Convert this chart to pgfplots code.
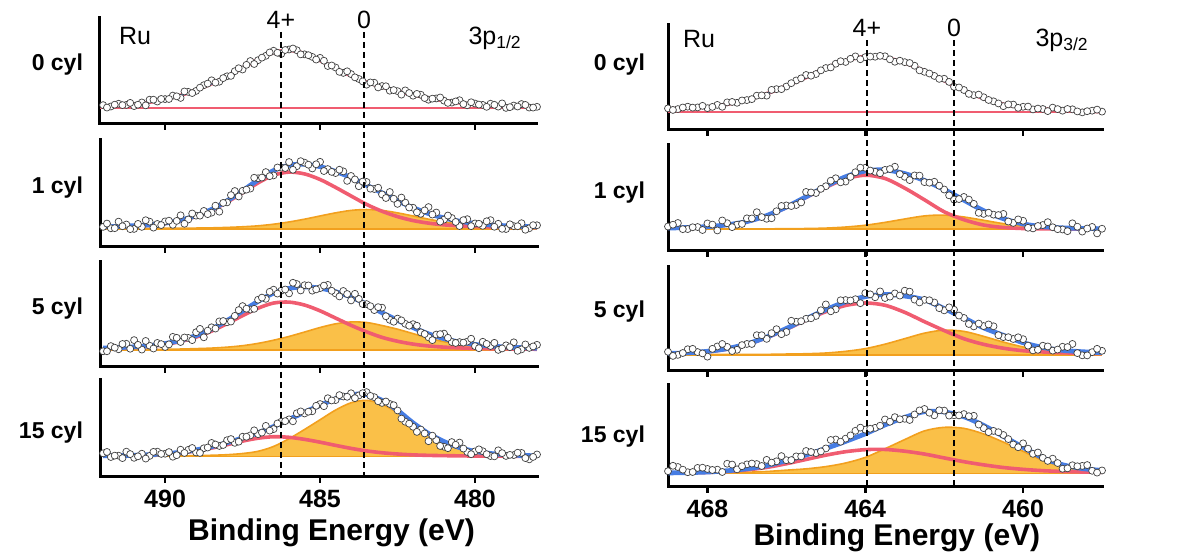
\documentclass[border=0pt]{standalone}
\usepackage{fontspec}
\setmainfont{Liberation Sans}
\usepackage{pgfplots}
\usepackage{pgfplotstable}
\pgfplotsset{compat=1.18}
\usepgfplotslibrary{fillbetween}

\definecolor{bl}{RGB}{70,125,228}
\definecolor{rd}{RGB}{240,92,112}
\definecolor{orf}{RGB}{250,192,72}
\definecolor{orl}{RGB}{242,160,30}

% ---------- left column (Ru 3p1/2): measured points ----------
\pgfplotstableread{
x s1 s2 s3 s4
492.00 0.178 0.188 0.150 0.244
491.75 0.165 0.175 0.199 0.206
491.50 0.191 0.237 0.169 0.220
491.25 0.180 0.210 0.221 0.261
491.00 0.169 0.169 0.256 0.198
490.75 0.203 0.188 0.166 0.240
490.50 0.229 0.237 0.203 0.217
490.25 0.212 0.215 0.229 0.261
490.00 0.235 0.239 0.191 0.240
489.75 0.268 0.207 0.287 0.209
489.50 0.246 0.296 0.238 0.281
489.25 0.303 0.257 0.277 0.280
489.00 0.312 0.293 0.331 0.253
488.75 0.366 0.337 0.283 0.296
488.50 0.412 0.321 0.378 0.351
488.25 0.399 0.330 0.434 0.320
488.00 0.450 0.417 0.426 0.379
487.75 0.498 0.523 0.487 0.352
487.50 0.514 0.525 0.580 0.415
487.25 0.594 0.546 0.547 0.429
487.00 0.602 0.642 0.641 0.442
486.75 0.643 0.700 0.649 0.527
486.50 0.691 0.669 0.736 0.494
486.25 0.661 0.742 0.727 0.570
486.00 0.703 0.794 0.701 0.594
485.75 0.696 0.755 0.790 0.657
485.50 0.657 0.788 0.779 0.655
485.25 0.633 0.734 0.727 0.678
485.00 0.624 0.796 0.751 0.752
484.75 0.547 0.728 0.782 0.812
484.50 0.533 0.691 0.701 0.793
484.25 0.482 0.707 0.724 0.830
484.00 0.471 0.664 0.634 0.863
483.75 0.425 0.568 0.649 0.840
483.50 0.371 0.608 0.599 0.875
483.25 0.389 0.542 0.542 0.823
483.00 0.358 0.491 0.565 0.764
482.75 0.314 0.514 0.449 0.753
482.50 0.310 0.403 0.461 0.686
482.25 0.317 0.415 0.411 0.570
482.00 0.267 0.367 0.408 0.518
481.75 0.276 0.310 0.330 0.489
481.50 0.229 0.373 0.283 0.369
481.25 0.241 0.322 0.309 0.380
481.00 0.220 0.256 0.318 0.312
480.75 0.202 0.271 0.238 0.360
480.50 0.224 0.196 0.237 0.355
480.25 0.177 0.260 0.242 0.258
480.00 0.193 0.220 0.199 0.264
479.75 0.180 0.198 0.240 0.266
479.50 0.191 0.251 0.200 0.216
479.25 0.164 0.217 0.163 0.275
479.00 0.152 0.168 0.206 0.217
478.75 0.174 0.195 0.235 0.226
478.50 0.188 0.222 0.168 0.248
478.25 0.155 0.175 0.182 0.182
478.00 0.162 0.203 0.211 0.232
}\Lsc
\pgfplotstableread{
x s1 s2 s3 s4
491.875 0.155 0.219 0.150 0.258
491.625 0.182 0.176 0.184 0.220
491.375 0.178 0.194 0.219 0.195
491.125 0.199 0.167 0.174 0.236
490.875 0.182 0.216 0.211 0.213
490.625 0.176 0.250 0.248 0.190
490.375 0.229 0.181 0.176 0.259
490.125 0.236 0.205 0.218 0.238
489.875 0.236 0.246 0.215 0.257
489.625 0.261 0.244 0.278 0.225
489.375 0.307 0.217 0.281 0.248
489.125 0.292 0.313 0.256 0.299
488.875 0.343 0.293 0.363 0.248
488.625 0.381 0.307 0.346 0.304
488.375 0.390 0.386 0.366 0.335
488.125 0.433 0.412 0.438 0.330
487.875 0.454 0.485 0.433 0.391
487.625 0.526 0.472 0.542 0.364
487.375 0.558 0.536 0.555 0.415
487.125 0.566 0.647 0.554 0.481
486.875 0.626 0.649 0.661 0.458
486.625 0.675 0.662 0.716 0.478
486.375 0.672 0.743 0.699 0.552
486.125 0.698 0.738 0.738 0.576
485.875 0.712 0.722 0.802 0.574
485.625 0.657 0.802 0.729 0.676
485.375 0.649 0.769 0.777 0.673
485.125 0.608 0.773 0.739 0.734
484.875 0.597 0.710 0.775 0.730
484.625 0.552 0.702 0.726 0.789
484.375 0.492 0.722 0.672 0.844
484.125 0.497 0.618 0.695 0.827
483.875 0.440 0.631 0.697 0.813
483.625 0.402 0.611 0.600 0.864
483.375 0.392 0.545 0.579 0.836
483.125 0.345 0.554 0.570 0.781
482.875 0.356 0.458 0.483 0.778
482.625 0.320 0.451 0.431 0.740
482.375 0.277 0.462 0.444 0.602
482.125 0.292 0.369 0.393 0.550
481.875 0.284 0.324 0.393 0.465
481.625 0.245 0.342 0.314 0.449
481.375 0.239 0.303 0.256 0.426
481.125 0.250 0.237 0.313 0.320
480.875 0.199 0.294 0.278 0.297
480.625 0.213 0.234 0.229 0.332
480.375 0.188 0.251 0.232 0.293
480.125 0.205 0.195 0.269 0.235
479.875 0.183 0.217 0.179 0.285
479.625 0.162 0.240 0.220 0.235
479.375 0.181 0.189 0.230 0.213
479.125 0.194 0.170 0.177 0.246
478.875 0.159 0.212 0.189 0.228
478.625 0.165 0.194 0.154 0.250
478.375 0.180 0.161 0.215 0.195
478.125 0.155 0.204 0.196 0.207
}\Lsb

% ---------- left column: fitted curves ----------
\pgfplotstableread{
x e1 e2 r2 o2 e3 r3 o3 e4 r4 o4
492.0 0.170 0.188 0.185 0.173 0.180 0.175 0.165 0.218 0.216 0.212
491.5 0.175 0.192 0.189 0.173 0.185 0.179 0.166 0.220 0.218 0.212
491.0 0.185 0.199 0.195 0.174 0.192 0.186 0.166 0.224 0.221 0.213
490.5 0.205 0.207 0.203 0.174 0.203 0.196 0.167 0.230 0.226 0.214
490.0 0.235 0.224 0.219 0.175 0.223 0.214 0.169 0.240 0.235 0.215
489.5 0.270 0.251 0.245 0.176 0.254 0.243 0.171 0.255 0.248 0.217
489.0 0.320 0.293 0.286 0.177 0.299 0.284 0.175 0.279 0.269 0.220
488.5 0.380 0.351 0.342 0.179 0.362 0.342 0.180 0.312 0.298 0.224
488.0 0.450 0.432 0.419 0.183 0.442 0.413 0.189 0.353 0.333 0.230
487.5 0.530 0.525 0.506 0.189 0.532 0.489 0.203 0.402 0.370 0.242
487.0 0.610 0.627 0.599 0.198 0.625 0.560 0.225 0.455 0.400 0.265
486.5 0.675 0.714 0.671 0.213 0.704 0.609 0.255 0.520 0.415 0.315
486.0 0.695 0.764 0.700 0.234 0.749 0.618 0.291 0.594 0.409 0.395
485.5 0.665 0.773 0.683 0.260 0.763 0.590 0.333 0.668 0.388 0.490
485.0 0.600 0.751 0.631 0.290 0.751 0.535 0.376 0.739 0.359 0.590
484.5 0.525 0.706 0.557 0.319 0.717 0.466 0.411 0.806 0.326 0.690
484.0 0.455 0.649 0.477 0.342 0.666 0.397 0.429 0.850 0.295 0.765
483.5 0.395 0.578 0.398 0.350 0.599 0.335 0.424 0.849 0.269 0.790
483.0 0.350 0.506 0.334 0.342 0.517 0.282 0.395 0.790 0.250 0.750
482.5 0.310 0.433 0.284 0.319 0.445 0.245 0.360 0.687 0.237 0.660
482.0 0.275 0.367 0.247 0.290 0.376 0.218 0.318 0.558 0.228 0.540
481.5 0.245 0.313 0.223 0.260 0.315 0.200 0.275 0.448 0.223 0.435
481.0 0.220 0.271 0.207 0.234 0.270 0.189 0.241 0.365 0.220 0.355
480.5 0.200 0.241 0.198 0.213 0.237 0.182 0.215 0.303 0.218 0.295
480.0 0.185 0.220 0.192 0.198 0.215 0.177 0.198 0.264 0.216 0.258
479.5 0.175 0.206 0.187 0.189 0.200 0.174 0.186 0.242 0.215 0.237
479.0 0.168 0.198 0.185 0.183 0.190 0.172 0.178 0.230 0.215 0.225
478.5 0.164 0.192 0.183 0.179 0.184 0.171 0.173 0.222 0.214 0.218
478.0 0.162 0.188 0.181 0.177 0.179 0.169 0.170 0.219 0.214 0.215
}\Lcur

% ---------- right column (Ru 3p3/2): measured points ----------
\pgfplotstableread{
x s1 s2 s3 s4
469.00 0.206 0.231 0.185 0.155
468.75 0.199 0.264 0.155 0.196
468.50 0.222 0.207 0.209 0.145
468.25 0.215 0.226 0.182 0.187
468.00 0.208 0.260 0.138 0.177
467.75 0.239 0.194 0.236 0.170
467.50 0.263 0.262 0.232 0.228
467.25 0.259 0.248 0.204 0.173
467.00 0.285 0.308 0.260 0.222
466.75 0.327 0.366 0.344 0.225
466.50 0.327 0.304 0.309 0.266
466.25 0.389 0.375 0.402 0.252
466.00 0.414 0.430 0.375 0.263
465.75 0.472 0.434 0.473 0.300
465.50 0.524 0.557 0.502 0.353
465.25 0.533 0.547 0.529 0.333
465.00 0.590 0.611 0.640 0.378
464.75 0.631 0.686 0.593 0.466
464.50 0.648 0.655 0.682 0.474
464.25 0.701 0.743 0.690 0.551
464.00 0.694 0.785 0.749 0.562
463.75 0.698 0.747 0.709 0.580
463.50 0.702 0.765 0.702 0.662
463.25 0.650 0.795 0.746 0.685
463.00 0.646 0.700 0.772 0.669
462.75 0.612 0.713 0.686 0.711
462.50 0.554 0.650 0.684 0.765
462.25 0.515 0.653 0.659 0.703
462.00 0.488 0.580 0.583 0.749
461.75 0.411 0.485 0.589 0.703
461.50 0.381 0.510 0.510 0.715
461.25 0.332 0.445 0.429 0.698
461.00 0.312 0.350 0.432 0.577
460.75 0.273 0.343 0.430 0.550
460.50 0.227 0.350 0.326 0.510
460.25 0.242 0.265 0.308 0.417
460.00 0.221 0.285 0.306 0.428
459.75 0.196 0.213 0.198 0.325
459.50 0.200 0.245 0.243 0.286
459.25 0.213 0.224 0.196 0.278
459.00 0.184 0.203 0.233 0.179
458.75 0.197 0.261 0.260 0.213
458.50 0.168 0.183 0.151 0.207
458.25 0.184 0.227 0.181 0.159
458.00 0.175 0.210 0.194 0.162
}\Rsc
\pgfplotstableread{
x s1 s2 s3 s4
468.875 0.191 0.248 0.145 0.208
468.625 0.214 0.206 0.173 0.170
468.375 0.213 0.224 0.213 0.147
468.125 0.230 0.198 0.169 0.189
467.875 0.220 0.249 0.213 0.167
467.625 0.221 0.288 0.260 0.147
467.375 0.267 0.225 0.192 0.220
467.125 0.281 0.255 0.249 0.204
466.875 0.294 0.307 0.260 0.230
466.625 0.330 0.320 0.344 0.206
466.375 0.382 0.309 0.364 0.239
466.125 0.389 0.425 0.354 0.303
465.875 0.446 0.424 0.483 0.264
465.625 0.492 0.458 0.479 0.300
465.375 0.517 0.552 0.507 0.343
465.125 0.568 0.586 0.584 0.349
464.875 0.596 0.663 0.574 0.461
464.625 0.655 0.648 0.680 0.444
464.375 0.678 0.699 0.678 0.506
464.125 0.674 0.786 0.652 0.582
463.875 0.699 0.759 0.737 0.571
463.625 0.706 0.734 0.765 0.601
463.375 0.673 0.773 0.715 0.640
463.125 0.660 0.725 0.725 0.664
462.875 0.638 0.669 0.763 0.657
462.625 0.568 0.711 0.659 0.751
462.375 0.538 0.644 0.680 0.728
462.125 0.487 0.616 0.604 0.752
461.875 0.458 0.525 0.612 0.700
461.625 0.405 0.490 0.533 0.702
461.375 0.344 0.485 0.452 0.694
461.125 0.337 0.360 0.456 0.612
460.875 0.286 0.361 0.448 0.538
460.625 0.253 0.339 0.344 0.537
460.375 0.244 0.278 0.325 0.470
460.125 0.211 0.298 0.324 0.390
459.875 0.223 0.219 0.244 0.376
459.625 0.204 0.236 0.204 0.338
459.375 0.180 0.272 0.236 0.256
459.125 0.199 0.206 0.206 0.235
458.875 0.200 0.187 0.230 0.183
458.625 0.177 0.229 0.172 0.203
458.375 0.179 0.212 0.150 0.215
458.125 0.194 0.166 0.213 0.141
}\Rsb

% ---------- right column: fitted curves ----------
\pgfplotstableread{
x e1 e2 r2 o2 e3 r3 o3 e4 r4 o4
469.0 0.200 0.216 0.215 0.206 0.168 0.165 0.157 0.138 0.137 0.135
468.5 0.210 0.222 0.220 0.207 0.175 0.172 0.157 0.141 0.139 0.136
468.0 0.220 0.230 0.228 0.207 0.189 0.185 0.158 0.147 0.143 0.138
467.5 0.245 0.247 0.245 0.207 0.215 0.210 0.159 0.159 0.152 0.141
467.0 0.285 0.278 0.275 0.208 0.260 0.255 0.159 0.179 0.168 0.145
466.5 0.345 0.334 0.330 0.209 0.326 0.320 0.160 0.210 0.192 0.152
466.0 0.420 0.415 0.410 0.210 0.409 0.400 0.163 0.259 0.228 0.165
465.5 0.500 0.512 0.505 0.212 0.502 0.490 0.166 0.314 0.270 0.178
465.0 0.590 0.611 0.600 0.216 0.589 0.570 0.173 0.378 0.312 0.200
464.5 0.660 0.700 0.680 0.226 0.665 0.630 0.189 0.447 0.346 0.235
464.0 0.700 0.755 0.715 0.243 0.715 0.654 0.215 0.522 0.366 0.290
463.5 0.690 0.765 0.684 0.270 0.736 0.632 0.258 0.609 0.368 0.375
463.0 0.640 0.730 0.593 0.302 0.721 0.564 0.311 0.682 0.351 0.465
462.5 0.560 0.665 0.483 0.331 0.684 0.474 0.364 0.739 0.323 0.550
462.0 0.470 0.580 0.370 0.339 0.600 0.389 0.393 0.736 0.285 0.585
461.5 0.375 0.480 0.295 0.321 0.510 0.310 0.381 0.689 0.248 0.575
461.0 0.300 0.380 0.245 0.290 0.415 0.256 0.333 0.603 0.217 0.520
460.5 0.245 0.305 0.222 0.258 0.343 0.219 0.278 0.497 0.191 0.440
460.0 0.215 0.255 0.212 0.235 0.272 0.195 0.231 0.389 0.173 0.350
459.5 0.200 0.230 0.209 0.221 0.226 0.183 0.197 0.286 0.160 0.260
459.0 0.190 0.218 0.208 0.214 0.199 0.175 0.178 0.218 0.152 0.200
458.5 0.180 0.213 0.207 0.211 0.185 0.170 0.169 0.181 0.147 0.168
458.0 0.175 0.210 0.206 0.209 0.177 0.167 0.164 0.162 0.144 0.152
}\Rcur

\pgfplotsset{
  base/.style={scale only axis, ymin=0, ymax=1,
    axis x line*=bottom, axis y line=none,
    x axis line style={line width=1.5pt, -, line cap=rect},
    ytick=\empty, clip=false, tick align=outside, major tick length=3pt,
    tick style={line width=1.3pt, black},
    /pgf/number format/assume math mode=true,
    xticklabel style={font=\fontsize{12.5}{14}\selectfont\bfseries}},
  colL/.style={base, width=218.5pt, xmin=478, xmax=492.1, x dir=reverse, xtick={480,485,490}},
  colR/.style={base, width=217pt, xmin=458, xmax=469, x dir=reverse, xtick={460,464,468}},
  notl/.style={xticklabels={\empty,\empty,\empty}},
  env/.style={bl, line width=2.4pt, smooth},
  comp/.style={rd, line width=1.8pt, smooth},
  orgl/.style={orl, line width=0.8pt, smooth},
  dots/.style={only marks, mark=*, mark size=1.75pt, mark options={fill=white, draw=black!75, line width=0.35pt}},
}
\newcommand{\cylfont}{\fontsize{11.5}{13}\selectfont\bfseries}
\newcommand{\lblfont}{\fontsize{12.5}{14}\selectfont}
\newcommand{\xlfont}{\fontsize{15}{17}\selectfont\bfseries}

\begin{document}
\begin{tikzpicture}

% ================= LEFT COLUMN =================
\begin{axis}[colL, notl, height=53pt, at={(50pt,216pt)}, anchor=south west]
\draw[line width=1.5pt, line cap=rect] (axis cs:492.1,0) -- (axis cs:492.1,1);
\addplot[rd, line width=0.8pt] coordinates {(478,0.15) (492.1,0.15)};
\addplot[comp] table[x=x,y=e1]{\Lcur};
\addplot[bl, line width=0.9pt, smooth] table[x=x,y=e1]{\Lcur};
\addplot[dots] table[x=x,y=s1]{\Lsc};
\addplot[dots] table[x=x,y=s1]{\Lsb};
\node[font=\lblfont] at (axis cs:490.97,0.83) {Ru};
\node[font=\lblfont] at (axis cs:486.26,0.98) {4+};
\node[font=\lblfont] at (axis cs:483.58,0.98) {0};
\node[font=\lblfont] at (axis cs:479.35,0.81) {3p\textsubscript{1/2}};
\node[font=\cylfont, anchor=east, xshift=-5pt] at (axis cs:492.1,0.56) {0 cyl};
\coordinate (LA1) at (axis cs:486.26,0.87);
\coordinate (LB1) at (axis cs:483.58,0.87);
\end{axis}

\begin{axis}[colL, notl, height=53.5pt, at={(50pt,154.5pt)}, anchor=south west]
\draw[line width=1.5pt, line cap=rect] (axis cs:492.1,0) -- (axis cs:492.1,1);
\addplot[name path=oL2, draw=none, smooth] table[x=x,y=o2]{\Lcur};
\addplot[name path=bL2, orl, line width=0.8pt] coordinates {(478,0.17) (492,0.17)};
\addplot[orf] fill between[of=oL2 and bL2];
\addplot[orgl] table[x=x,y=o2]{\Lcur};
\addplot[comp] table[x=x,y=r2]{\Lcur};
\addplot[env] table[x=x,y=e2]{\Lcur};
\addplot[dots] table[x=x,y=s2]{\Lsc};
\addplot[dots] table[x=x,y=s2]{\Lsb};
\node[font=\cylfont, anchor=east, xshift=-5pt] at (axis cs:492.1,0.56) {1 cyl};
\end{axis}

\begin{axis}[colL, notl, height=52.5pt, at={(50pt,94.5pt)}, anchor=south west]
\draw[line width=1.5pt, line cap=rect] (axis cs:492.1,0) -- (axis cs:492.1,1);
\addplot[name path=oL3, draw=none, smooth] table[x=x,y=o3]{\Lcur};
\addplot[name path=bL3, orl, line width=0.8pt] coordinates {(478,0.16) (492,0.16)};
\addplot[orf] fill between[of=oL3 and bL3];
\addplot[orgl] table[x=x,y=o3]{\Lcur};
\addplot[comp] table[x=x,y=r3]{\Lcur};
\addplot[env] table[x=x,y=e3]{\Lcur};
\addplot[dots] table[x=x,y=s3]{\Lsc};
\addplot[dots] table[x=x,y=s3]{\Lsb};
\node[font=\cylfont, anchor=east, xshift=-5pt] at (axis cs:492.1,0.56) {5 cyl};
\end{axis}

\begin{axis}[colL, height=48.5pt, at={(50pt,39.5pt)}, anchor=south west]
\draw[line width=1.5pt, line cap=rect] (axis cs:492.1,0) -- (axis cs:492.1,1);
\addplot[name path=oL4, draw=none, smooth] table[x=x,y=o4]{\Lcur};
\addplot[name path=bL4, orl, line width=0.8pt] coordinates {(478,0.21) (492,0.21)};
\addplot[orf] fill between[of=oL4 and bL4];
\addplot[orgl] table[x=x,y=o4]{\Lcur};
\addplot[comp] table[x=x,y=r4]{\Lcur};
\addplot[env] table[x=x,y=e4]{\Lcur};
\addplot[dots] table[x=x,y=s4]{\Lsc};
\addplot[dots] table[x=x,y=s4]{\Lsb};
\node[font=\cylfont, anchor=east, xshift=-5pt] at (axis cs:492.1,0.46) {15 cyl};
\node[font=\xlfont, yshift=-28pt] at (axis cs:484.63,0) {Binding Energy (eV)};
\coordinate (LA4) at (axis cs:486.26,0);
\coordinate (LB4) at (axis cs:483.58,0);
\end{axis}

% ================= RIGHT COLUMN =================
\begin{axis}[colR, notl, height=52.5pt, at={(334pt,213pt)}, anchor=south west]
\draw[line width=1.5pt, line cap=rect] (axis cs:469,0) -- (axis cs:469,1);
\addplot[rd, line width=0.8pt] coordinates {(458,0.17) (469,0.17)};
\addplot[comp] table[x=x,y=e1]{\Rcur};
\addplot[bl, line width=0.9pt, smooth] table[x=x,y=e1]{\Rcur};
\addplot[dots] table[x=x,y=s1]{\Rsc};
\addplot[dots] table[x=x,y=s1]{\Rsb};
\node[font=\lblfont] at (axis cs:468.21,0.867) {Ru};
\node[font=\lblfont] at (axis cs:463.96,0.97) {4+};
\node[font=\lblfont] at (axis cs:461.75,0.97) {0};
\node[font=\lblfont] at (axis cs:459.01,0.857) {3p\textsubscript{3/2}};
\node[font=\cylfont, anchor=east, xshift=-8pt] at (axis cs:469,0.62) {0 cyl};
\coordinate (RA1) at (axis cs:463.96,0.857);
\coordinate (RB1) at (axis cs:461.75,0.857);
\end{axis}

\begin{axis}[colR, notl, height=53pt, at={(334pt,152.5pt)}, anchor=south west]
\draw[line width=1.5pt, line cap=rect] (axis cs:469,0) -- (axis cs:469,1);
\addplot[name path=oR2, draw=none, smooth] table[x=x,y=o2]{\Rcur};
\addplot[name path=bR2, orl, line width=0.8pt] coordinates {(458,0.205) (469,0.205)};
\addplot[orf] fill between[of=oR2 and bR2];
\addplot[orgl] table[x=x,y=o2]{\Rcur};
\addplot[comp] table[x=x,y=r2]{\Rcur};
\addplot[env] table[x=x,y=e2]{\Rcur};
\addplot[dots] table[x=x,y=s2]{\Rsc};
\addplot[dots] table[x=x,y=s2]{\Rsb};
\node[font=\cylfont, anchor=east, xshift=-8pt] at (axis cs:469,0.55) {1 cyl};
\end{axis}

\begin{axis}[colR, notl, height=52pt, at={(334pt,92.5pt)}, anchor=south west]
\draw[line width=1.5pt, line cap=rect] (axis cs:469,0) -- (axis cs:469,1);
\addplot[name path=oR3, draw=none, smooth] table[x=x,y=o3]{\Rcur};
\addplot[name path=bR3, orl, line width=0.8pt] coordinates {(458,0.154) (469,0.154)};
\addplot[orf] fill between[of=oR3 and bR3];
\addplot[orgl] table[x=x,y=o3]{\Rcur};
\addplot[comp] table[x=x,y=r3]{\Rcur};
\addplot[env] table[x=x,y=e3]{\Rcur};
\addplot[dots] table[x=x,y=s3]{\Rsc};
\addplot[dots] table[x=x,y=s3]{\Rsb};
\node[font=\cylfont, anchor=east, xshift=-8pt] at (axis cs:469,0.57) {5 cyl};
\end{axis}

\begin{axis}[colR, height=51pt, at={(334pt,34.5pt)}, anchor=south west]
\draw[line width=1.5pt, line cap=rect] (axis cs:469,0) -- (axis cs:469,1);
\addplot[name path=oR4, draw=none, smooth] table[x=x,y=o4]{\Rcur};
\addplot[name path=bR4, orl, line width=0.8pt] coordinates {(458,0.134) (469,0.134)};
\addplot[orf] fill between[of=oR4 and bR4];
\addplot[orgl] table[x=x,y=o4]{\Rcur};
\addplot[comp] table[x=x,y=r4]{\Rcur};
\addplot[env] table[x=x,y=e4]{\Rcur};
\addplot[dots] table[x=x,y=s4]{\Rsc};
\addplot[dots] table[x=x,y=s4]{\Rsb};
\node[font=\cylfont, anchor=east, xshift=-8pt] at (axis cs:469,0.49) {15 cyl};
\node[font=\xlfont, yshift=-25.5pt] at (axis cs:463.2,0) {Binding Energy (eV)};
\coordinate (RA4) at (axis cs:463.96,0);
\coordinate (RB4) at (axis cs:461.75,0);
\end{axis}

% ================= dashed reference lines =================
\begin{scope}[line width=0.8pt, dash pattern=on 3pt off 2pt]
\draw (LA1) -- (LA4);
\draw (LB1) -- (LB4);
\draw (RA1) -- (RA4);
\draw (RB1) -- (RB4);
\end{scope}

\pgfresetboundingbox
\path[use as bounding box] (0,0) rectangle (591.5pt,278pt);
\end{tikzpicture}
\end{document}
